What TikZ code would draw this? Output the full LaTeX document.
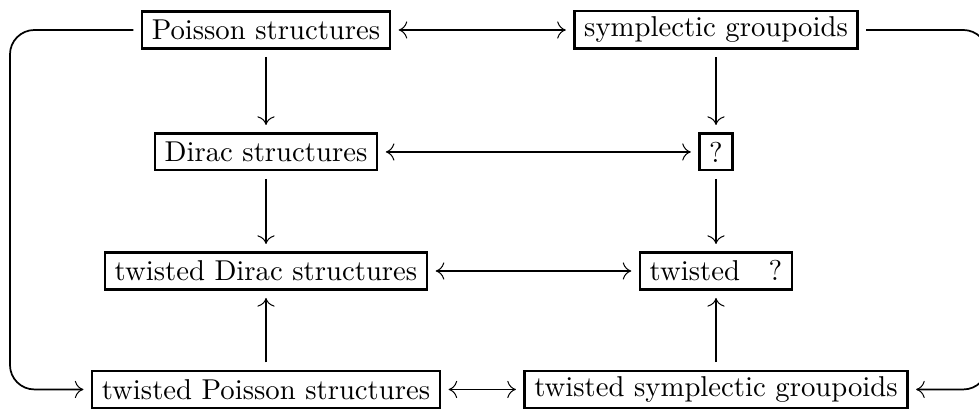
\documentclass[tikz,border=0pt]{standalone}
\usepackage{tikz}
\usetikzlibrary{arrows.meta}
\tikzset{
  xytip/.tip={Computer Modern Rightarrow[length=3pt,width=6pt,line width=.35pt]},
  box/.style={draw,line width=.8pt,minimum height=.45cm,inner xsep=3.4pt,inner ysep=2pt,outer sep=3pt},
  flow/.style={-xytip,line width=.6pt},
  bothflow/.style={xytip-xytip,line width=.6pt},
  loopline/.style={flow,rounded corners=.3cm}
}
\begin{document}
\begin{tikzpicture}
        \useasboundingbox (0,0) rectangle (11.983,-5.043);
        \node[box] (poisson) at (3.256,-0.367) {Poisson structures};
        \node[box] (symp) at (8.764,-0.367) {symplectic groupoids};
        \node[box] (dirac) at (3.256,-1.860) {Dirac structures};
        \node[box] (quest) at (8.764,-1.860) {?};
        \node[box] (tdirac) at (3.256,-3.317) {twisted Dirac structures};
        \node[box] (tquest) at (8.764,-3.317) {twisted\quad ?};
        \node[box] (tpoisson) at (3.256,-4.767) {twisted Poisson structures};
        \node[box] (tsymp) at (8.764,-4.767) {twisted symplectic groupoids};
        \coordinate (leftrail) at (0.122,0);
        \coordinate (rightrail) at (12.09,0);
        \draw[bothflow] (poisson) -- (symp);
        \draw[bothflow] (dirac) -- (quest);
        \draw[bothflow] (tdirac) -- (tquest);
        \draw[bothflow] (tpoisson) -- (tsymp);
        \draw[flow] (poisson) -- (dirac);
        \draw[flow] (symp) -- (quest);
        \draw[flow] (dirac) -- (tdirac);
        \draw[flow] (quest) -- (tquest);
        \draw[flow] (tpoisson) -- (tdirac);
        \draw[flow] (tsymp) -- (tquest);
        \draw[loopline] (poisson.west) -- (poisson.west -| leftrail) -- (tpoisson.west -| leftrail) -- (tpoisson.west);
        \draw[loopline] (symp.east) -- (symp.east -| rightrail) -- (tsymp.east -| rightrail) -- (tsymp.east);
      \end{tikzpicture}
\end{document}
